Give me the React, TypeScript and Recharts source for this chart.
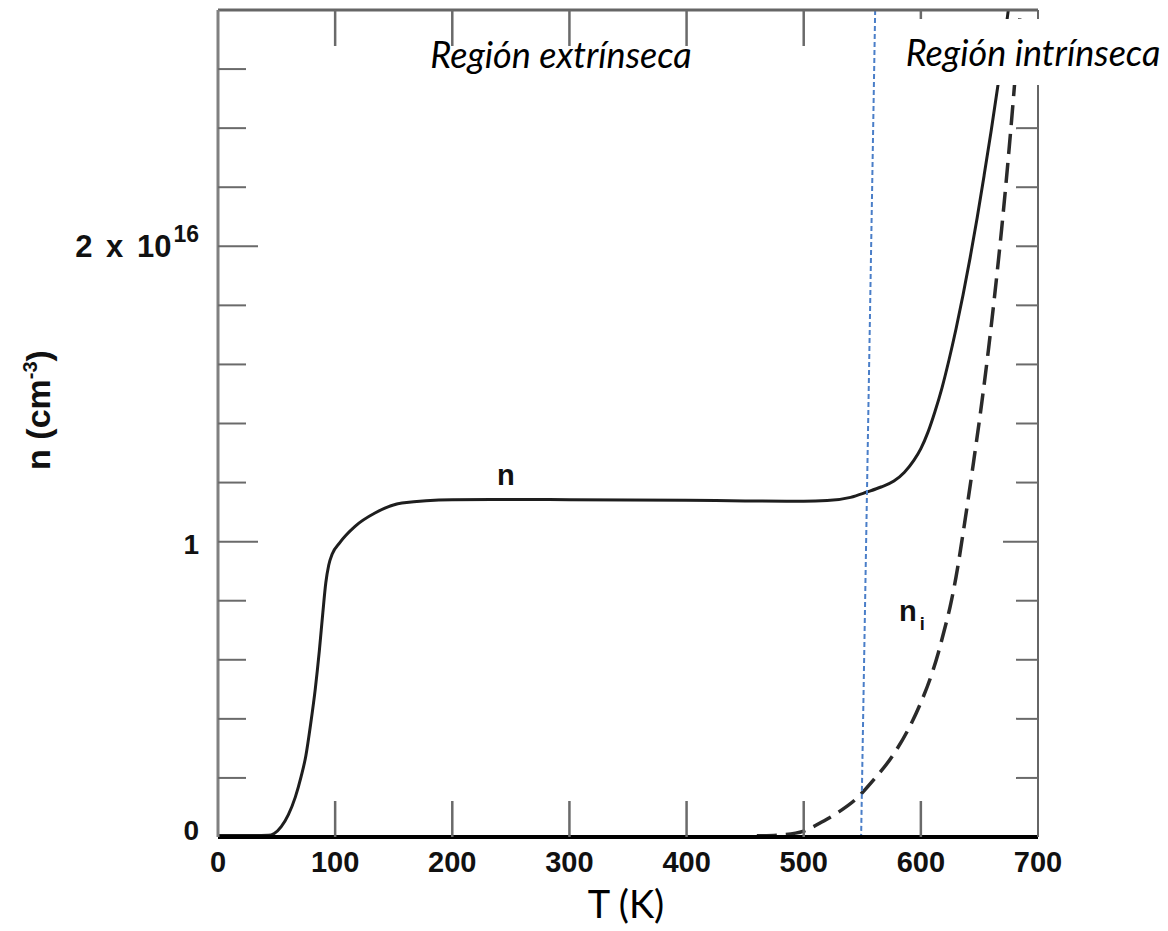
import React from 'react';
import { LineChart, Line, XAxis, YAxis, ReferenceLine } from 'recharts';

// n (solid) curve: temperature (K) and value (x 10^16 cm^-3)
const nTemps = [0, 20, 43, 48, 54, 60, 66, 71, 75, 79, 83, 86.5, 89.5, 92, 94.5, 97.5, 104, 117, 134, 157, 200, 250, 300, 350, 400, 450, 500, 520, 540, 554, 566, 577, 586, 594, 600, 606, 612, 618, 624, 630, 636, 642, 648, 654, 660, 666, 672, 676];
const nValues = [0.005, 0.005, 0.006, 0.012, 0.035, 0.075, 0.135, 0.205, 0.275, 0.38, 0.5, 0.63, 0.76, 0.86, 0.92, 0.958, 0.997, 1.052, 1.097, 1.131, 1.142, 1.143, 1.142, 1.141, 1.14, 1.138, 1.137, 1.139, 1.15, 1.168, 1.185, 1.205, 1.235, 1.275, 1.315, 1.37, 1.44, 1.52, 1.615, 1.72, 1.835, 1.96, 2.095, 2.24, 2.39, 2.55, 2.72, 2.84];

// n_i (dashed) curve
const niTemps = [460, 480, 500, 515, 530, 545, 560, 575, 590, 600, 610, 615, 620, 625, 630, 638, 645, 652, 658, 664, 669, 674, 679, 684, 687];
const niValues = [0.004, 0.007, 0.02, 0.05, 0.085, 0.13, 0.195, 0.27, 0.37, 0.455, 0.56, 0.625, 0.7, 0.78, 0.88, 1.08, 1.27, 1.47, 1.66, 1.87, 2.06, 2.27, 2.5, 2.75, 2.9];

const xTicks = [0, 100, 200, 300, 400, 500, 600, 700];
const yTicks = [0, 0.2, 0.4, 0.6, 0.8, 1, 1.2, 1.4, 1.6, 1.8, 2, 2.2, 2.4, 2.6];
const yLabels: Record<string, string> = { '0': '0', '1': '1', '2': '2 x 10' };

const boundaryTop = 561;
const boundaryBottom = 549;

const nData = nTemps.map((T, i) => ({ T, v: nValues[i] }));
const niData = niTemps.map((T, i) => ({ T, v: niValues[i] }));

const FONT = '"Liberation Sans", Arial, sans-serif';
const TICK_COLOR = '#6a6a6a';

const isMajor = (v: number) => Math.abs(v - 1) < 1e-6 || Math.abs(v - 2) < 1e-6;

const LeftTick = (props: any) => {
  const { x, y, payload } = props;
  const v = payload.value as number;
  const key = String(Math.round(v * 10) / 10);
  const label = yLabels[key];
  const dy = key === '0' ? 3 : key === '1' ? 12 : 11;
  return (
    <g>
      {v > 0 && (
        <line x1={x} x2={x + (isMajor(v) ? 40 : 28)} y1={y} y2={y} stroke={TICK_COLOR} strokeWidth={2} />
      )}
      {label && (
        <text
          x={x - 19}
          y={y + dy}
          textAnchor="end"
          fontFamily={FONT}
          fontSize={key === '2' ? 31 : 28}
          fontWeight="bold"
          fill="#111"
          style={{ wordSpacing: 5 }}
        >
          {label}
          {key === '2' && (
            <tspan dx={2} dy={-15} fontSize={23}>16</tspan>
          )}
        </text>
      )}
    </g>
  );
};

const RightTick = (props: any) => {
  const { x, y, payload } = props;
  const v = payload.value as number;
  if (v <= 0) return <g />;
  return <line x1={x} x2={x - (Math.abs(v - 1) < 1e-6 ? 35 : 22)} y1={y} y2={y} stroke={TICK_COLOR} strokeWidth={2} />;
};

const BottomTick = (props: any) => {
  const { x, y, payload } = props;
  const v = payload.value as number;
  return (
    <g>
      {v > 0 && v < 700 && <line x1={x} x2={x} y1={y} y2={y - 36} stroke={TICK_COLOR} strokeWidth={2.5} />}
      <text x={x} y={y + 35} textAnchor="middle" fontFamily={FONT} fontSize={29} fontWeight="bold" fill="#111">
        {v}
      </text>
    </g>
  );
};

const TopTick = (props: any) => {
  const { x, y, payload } = props;
  const v = payload.value as number;
  if (v <= 0 || v >= 700) return <g />;
  return <line x1={x} x2={x} y1={y} y2={y + 36} stroke={TICK_COLOR} strokeWidth={2.5} />;
};

export default function App() {
  return (
    <div style={{ position: 'absolute', left: 0, top: 0, width: 1168, height: 931, background: '#fff' }}>
      <LineChart width={1168} height={931} margin={{ top: 9, right: 120, bottom: 34, left: 138 }}>
        <XAxis
          xAxisId="b"
          type="number"
          dataKey="T"
          domain={[0, 700]}
          ticks={xTicks}
          allowDataOverflow
          orientation="bottom"
          height={60}
          tickSize={0}
          tickMargin={0}
          tickLine={false}
          axisLine={{ stroke: '#000', strokeWidth: 4 }}
          tick={<BottomTick />}
          interval={0}
        />
        <XAxis
          xAxisId="t"
          type="number"
          dataKey="T"
          domain={[0, 700]}
          ticks={xTicks}
          allowDataOverflow
          orientation="top"
          height={1}
          tickSize={0}
          tickMargin={0}
          tickLine={false}
          axisLine={{ stroke: '#666', strokeWidth: 3 }}
          tick={<TopTick />}
          interval={0}
        />
        <YAxis
          yAxisId="l"
          type="number"
          domain={[0, 2.8]}
          ticks={yTicks}
          allowDataOverflow
          width={80}
          tickSize={0}
          tickMargin={0}
          tickLine={false}
          axisLine={{ stroke: '#808080', strokeWidth: 3 }}
          tick={<LeftTick />}
          interval={0}
        />
        <YAxis
          yAxisId="r"
          orientation="right"
          type="number"
          domain={[0, 2.8]}
          ticks={yTicks}
          allowDataOverflow
          width={10}
          tickSize={0}
          tickMargin={0}
          tickLine={false}
          axisLine={{ stroke: '#666', strokeWidth: 2 }}
          tick={<RightTick />}
          interval={0}
        />
        <Line
          xAxisId="b"
          yAxisId="l"
          data={nData}
          dataKey="v"
          type="monotone"
          stroke="#1e1e1e"
          strokeWidth={3}
          dot={false}
          activeDot={false}
          isAnimationActive={false}
        />
        <Line
          xAxisId="t"
          yAxisId="r"
          data={niData}
          dataKey="v"
          type="monotone"
          stroke="#2a2a2a"
          strokeWidth={3.5}
          strokeDasharray="20 9"
          dot={false}
          activeDot={false}
          isAnimationActive={false}
        />
        <ReferenceLine
          xAxisId="b"
          yAxisId="l"
          segment={[{ x: boundaryTop, y: 2.8 }, { x: boundaryBottom, y: 0 }]}
          stroke="#4a7ec8"
          strokeWidth={2}
          strokeDasharray="5 3"
          ifOverflow="visible"
        />
        <text x={561} y={68} textAnchor="middle" fontFamily="Lato, sans-serif" fontStyle="italic" fontSize={36} fill="#000">
          Región extrínseca
        </text>
        <text x={497} y={485} fontFamily={FONT} fontSize={29} fontWeight="bold" fill="#111">n</text>
        <text x={899} y={621} fontFamily={FONT} fontSize={29} fontWeight="bold" fill="#111">
          n<tspan dx={3} dy={9} fontSize={18}>i</tspan>
        </text>
        <text x={626} y={918} textAnchor="middle" fontFamily="Lato, sans-serif" fontSize={38} fill="#000">T (K)</text>
        <text
          x={50}
          y={410}
          transform="rotate(-90 50 410)"
          textAnchor="middle"
          fontFamily={FONT}
          fontSize={34}
          fontWeight="bold"
          fill="#111"
        >
          n (cm<tspan dy={-13} fontSize={20}>-3</tspan><tspan dy={13}>)</tspan>
        </text>
      </LineChart>
      <svg
        width={1168}
        height={931}
        style={{ position: 'absolute', left: 0, top: 0, pointerEvents: 'none' }}
      >
        <rect x={900} y={19} width={268} height={66} fill="#fff" />
        <text x={1033} y={66} textAnchor="middle" fontFamily="Lato, sans-serif" fontStyle="italic" fontSize={36} fill="#000">
          Región intrínseca
        </text>
      </svg>
    </div>
  );
}
